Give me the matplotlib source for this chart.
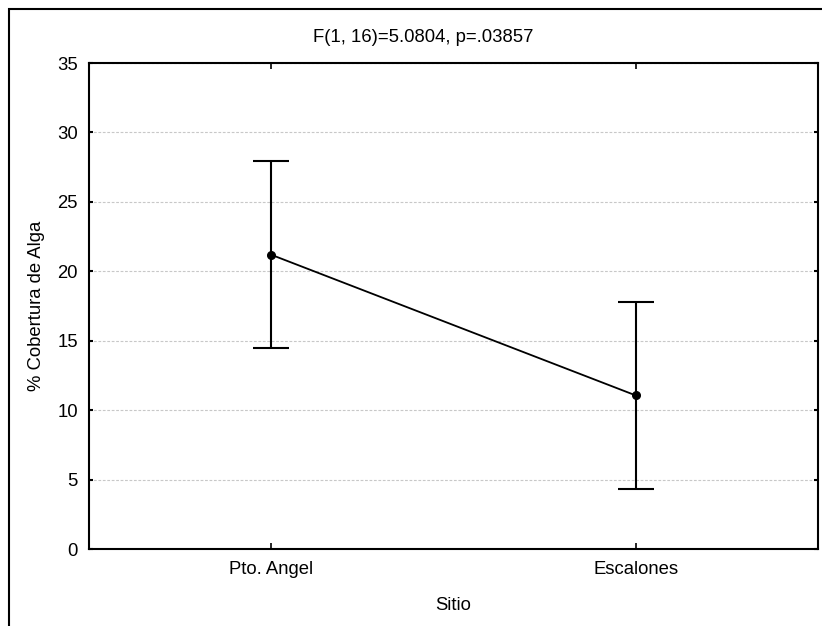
import matplotlib
matplotlib.use("Agg")
import matplotlib.pyplot as plt
from matplotlib.patches import Rectangle

plt.rcParams['font.family'] = ['Liberation Sans', 'DejaVu Sans']

# Group means with the ends of the confidence intervals
sites = ["Pto. Angel", "Escalones"]
means = [21.19, 11.06]
lower = [14.45, 4.33]
upper = [27.93, 17.78]
yticks = [0, 5, 10, 15, 20, 25, 30, 35]
title_text = "F(1, 16)=5.0804, p=.03857"

W, H = 822, 626
fig = plt.figure(figsize=(W / 100, H / 100), dpi=100)
fig.patch.set_facecolor("white")

ax = fig.add_axes([89 / W, 1 - 549 / H, (818 - 89) / W, (549 - 63) / H])

x = list(range(len(sites)))
err_low = [m - lo for m, lo in zip(means, lower)]
err_high = [hi - m for m, hi in zip(means, upper)]

ax.errorbar(x, means, yerr=[err_low, err_high], fmt="none", ecolor="black",
            elinewidth=1.5, capsize=13, capthick=1.5, zorder=3)
ax.plot(x, means, color="black", linewidth=1.3, marker="o", markersize=5.5,
        markerfacecolor="black", zorder=4)

ax.set_xlim(-0.5, 1.5)
ax.set_ylim(0, 35)
ax.set_xticks(x)
ax.set_xticklabels(sites)
ax.set_yticks(yticks)

ax.yaxis.grid(True, linestyle=(0, (2.5, 1.5)), color="#c8c8c8", linewidth=0.8)
ax.set_axisbelow(True)

for sp in ax.spines.values():
    sp.set_linewidth(1.5)
    sp.set_color("black")

ax.tick_params(axis="y", direction="in", length=3, width=1.5, pad=8,
               labelsize=13.3, left=True, right=True)
ax.tick_params(axis="x", direction="in", length=4, width=1.2, pad=9,
               labelsize=13.3, top=True)

ax.set_ylabel("% Cobertura de Alga", fontsize=13.3, labelpad=9)
ax.set_xlabel("Sitio", fontsize=13.3, labelpad=13)

fig.text(423 / W, 1 - 37 / H, title_text, ha="center", va="center",
         fontsize=13.3)

# Outer frame around the figure
fig.patches.append(Rectangle((8.5 / W, -0.1), 1.2, (H - 8.5) / H + 0.1,
                             transform=fig.transFigure, fill=False,
                             edgecolor="black", linewidth=1.5, clip_on=False))

fig.savefig("out.png", dpi=100, facecolor="white")
